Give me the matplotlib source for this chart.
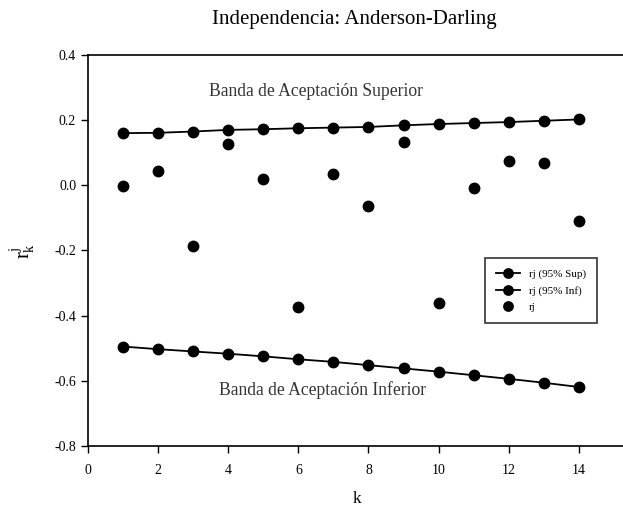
import numpy as np
import matplotlib.pyplot as plt

plt.rcParams['font.family'] = ['Liberation Serif', 'DejaVu Serif']
plt.rcParams['mathtext.fontset'] = 'custom'
plt.rcParams['mathtext.rm'] = 'Liberation Serif'
plt.rcParams['mathtext.it'] = 'Liberation Serif'

# retardos k y bandas de aceptacion al 95%
k = np.arange(1, 15)
banda_sup = [0.160, 0.161, 0.165, 0.170, 0.172, 0.175, 0.177,
             0.179, 0.184, 0.188, 0.191, 0.194, 0.198, 0.202]
banda_inf = [-0.495, -0.503, -0.510, -0.517, -0.525, -0.534, -0.542,
             -0.552, -0.562, -0.572, -0.583, -0.594, -0.606, -0.619]
rj = [-0.001, 0.045, -0.185, 0.126, 0.018, -0.373, 0.034,
      -0.064, 0.134, -0.361, -0.007, 0.075, 0.068, -0.110]

fig = plt.figure(figsize=(6.23, 5.12), dpi=100)
ax = fig.add_axes([0.1413, 0.129, 0.8620, 0.7637])

ax.plot(k, banda_sup, '-o', color='black', lw=1.3, ms=7.5, label='rj (95% Sup)')
ax.plot(k, banda_inf, '-o', color='black', lw=1.3, ms=7.5, label='rj (95% Inf)')
ax.plot(k, rj, 'o', color='black', ms=7.5, label='rj')

ax.text(6.5, 0.289, 'Banda de Aceptación Superior', ha='center', va='center',
        fontsize=12.7, color='#333333')
ax.text(6.69, -0.628, 'Banda de Aceptación Inferior', ha='center', va='center',
        fontsize=12.7, color='#333333')

ax.set_xlim(0, 15.32)
ax.set_ylim(-0.8, 0.4)
ax.set_xticks(np.arange(0, 15, 2))
ax.set_yticks(np.arange(-0.8, 0.41, 0.2))
ax.set_yticklabels(['-0.8', '-0.6', '-0.4', '-0.2', '0.0', '0.2', '0.4'])
ax.tick_params(direction='out', length=5, width=1, labelsize=10)
ax.tick_params(axis='x', pad=8)
ax.spines['right'].set_visible(False)
for s in ['left', 'bottom', 'top']:
    ax.spines[s].set_linewidth(1.2)

ax.set_xlabel('k', fontsize=12.5, labelpad=10)
ax.set_ylabel(r'$r^{j}_{k}$', fontsize=15, labelpad=12)
fig.text(0.568, 0.962, 'Independencia: Anderson-Darling', ha='center', va='center',
         fontsize=15)

leg = ax.legend(loc='upper left', bbox_to_anchor=(0.779, 0.496),
                bbox_transform=fig.transFigure, borderaxespad=0,
                fontsize=8, frameon=True, fancybox=False, edgecolor='black',
                handlelength=2.1, markerscale=0.9, borderpad=1.0,
                labelspacing=0.6)
leg.get_frame().set_linewidth(1.2)

fig.savefig('out.png', dpi=100)
